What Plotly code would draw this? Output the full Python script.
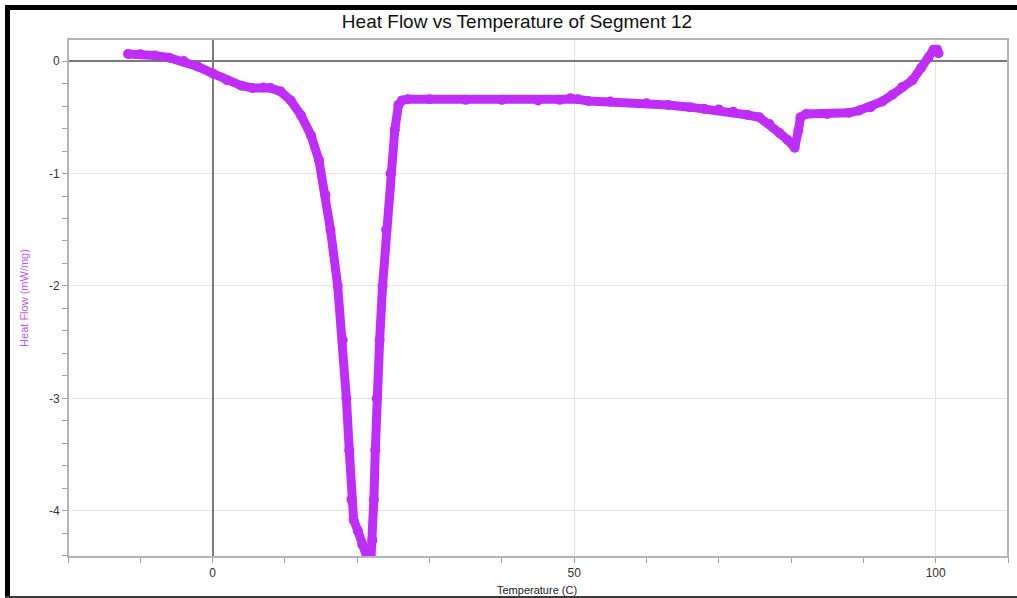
import plotly.graph_objects as go

# Segment 12 DSC trace: temperature (C) and heat flow (mW/mg)
temperature = [
    -11.7, -10.0, -8.0, -6.0, -4.0, -2.0, 0.0, 2.0, 4.0, 5.5, 7.0, 8.0,
    9.4, 10.8, 12.2, 13.6, 14.7, 15.6, 16.3, 17.3, 18.0, 18.5, 18.9, 19.2,
    19.5, 20.1, 20.7, 21.4, 21.9, 22.1, 22.3, 22.5, 22.7, 23.1, 23.5, 24.0,
    24.6, 25.2, 25.7, 26.2, 27.0, 30.0, 35.0, 40.0, 45.0, 48.0, 49.5, 50.5,
    52.0, 55.0, 60.0, 63.0, 66.0, 68.0, 70.0, 72.0, 74.0, 75.6, 77.0, 78.4,
    79.5, 80.5, 81.0, 81.3, 82.1, 85.0, 88.0, 89.4, 91.0, 92.6, 94.0, 95.4,
    96.8, 98.0, 99.0, 99.7, 100.2, 100.4,
]
heat_flow = [
    0.062, 0.06, 0.05, 0.03, 0.0, -0.05, -0.11, -0.17, -0.22, -0.24, -0.235, -0.24,
    -0.27, -0.35, -0.48, -0.66, -0.88, -1.19, -1.5, -2.0, -2.48, -3.0, -3.46, -3.9,
    -4.08, -4.18, -4.3, -4.42, -4.42, -4.26, -3.9, -3.46, -3.0, -2.48, -2.0, -1.5,
    -1.0, -0.61, -0.39, -0.35, -0.34, -0.34, -0.345, -0.345, -0.35, -0.345, -0.33, -0.34,
    -0.355, -0.36, -0.375, -0.39, -0.41, -0.425, -0.43, -0.45, -0.48, -0.5, -0.56, -0.64,
    -0.7, -0.77, -0.62, -0.5, -0.47, -0.47, -0.46, -0.44, -0.41, -0.36, -0.3, -0.23,
    -0.17, -0.06, 0.03, 0.1, 0.1, 0.07,
]

x_tick_vals = [0, 50, 100]
x_tick_text = ["0", "50", "100"]
y_tick_vals = [0, -1, -2, -3, -4]
y_tick_text = ["0", "-1", "-2", "-3", "-4"]

PURPLE = "#BE2EF7"
W, H = 1017, 598
ML, MR, MT, MB = 68, 9, 39, 41
PW, PH = W - ML - MR, H - MT - MB


def px(x):
    return (x - ML) / PW


def py(y):
    return (H - MB - y) / PH


fig = go.Figure()
fig.add_trace(go.Scatter(
    x=temperature, y=heat_flow, mode="lines+markers",
    line=dict(color=PURPLE, width=9, shape="linear"),
    marker=dict(color=PURPLE, size=10),
    showlegend=False, cliponaxis=True,
))

axis_common = dict(
    automargin=False,
    showline=False, linecolor="#aaaaaa",
    gridcolor="#e4e4e4", gridwidth=1,
    zeroline=True, zerolinecolor="#7a7a7a", zerolinewidth=1.5,
    ticks="outside", ticklen=5, tickcolor="#a0a0a0",
    tickfont=dict(family="Liberation Sans, Arial, sans-serif", size=12, color="#333333"),
)

fig.update_layout(
    width=W, height=H,
    margin=dict(l=ML, r=MR, t=MT, b=MB, autoexpand=False),
    paper_bgcolor="white", plot_bgcolor="white",
    font=dict(family="Liberation Sans, Arial, sans-serif"),
    title=dict(
        text="Heat Flow vs Temperature of Segment 12",
        x=517 / W, xanchor="center", xref="container",
        y=1 - 21 / H, yanchor="middle", yref="container",
        font=dict(size=19, color="#111111"),
    ),
    xaxis=dict(
        range=[-20, 110], tickvals=x_tick_vals, ticktext=x_tick_text,
        minor=dict(dtick=10, tick0=0, ticks="outside", ticklen=5,
                   tickcolor="#a0a0a0", showgrid=False),
        **axis_common,
    ),
    yaxis=dict(
        range=[-4.41, 0.196], tickvals=y_tick_vals, ticktext=y_tick_text,
        minor=dict(dtick=0.2, tick0=0, ticks="outside", ticklen=5,
                   tickcolor="#a0a0a0", showgrid=False),
        title=dict(text="Heat Flow (mW/mg)", standoff=18,
                   font=dict(size=11, color="#C455F2")),
        **axis_common,
    ),
    annotations=[
        dict(text="Temperature (C)", xref="paper", yref="paper",
             x=px(537), y=py(590), xanchor="center", yanchor="middle",
             showarrow=False, font=dict(size=11, color="#222222")),
    ],
    shapes=[
        # plot frame
        dict(type="rect", xref="paper", yref="paper", x0=0, x1=1, y0=0, y1=1,
             line=dict(color="#b4b4b4", width=2), layer="above"),
        # screen bezel
        dict(type="rect", xref="paper", yref="paper",
             x0=px(5), x1=px(W), y0=py(5), y1=py(10),
             fillcolor="black", line=dict(width=0)),
        dict(type="rect", xref="paper", yref="paper",
             x0=px(5), x1=px(10), y0=py(5), y1=py(H),
             fillcolor="black", line=dict(width=0)),
        dict(type="rect", xref="paper", yref="paper",
             x0=px(5), x1=px(W), y0=py(596), y1=py(H),
             fillcolor="#3a3a3a", line=dict(width=0)),
    ],
)

fig.write_html("out.html")
